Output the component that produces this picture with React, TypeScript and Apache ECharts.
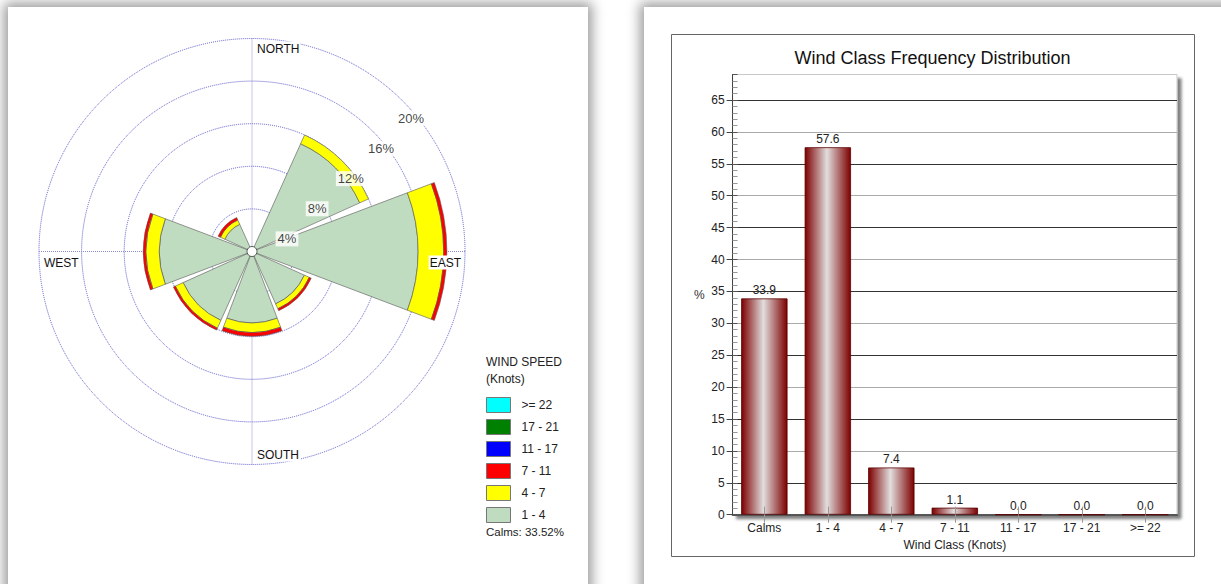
import React, { useEffect, useRef } from "react";
import * as echarts from "echarts";

// ---------- Wind rose data (percent of all observations) ----------
const directions = ["N", "NE", "E", "SE", "S", "SW", "W", "NW"];
const speed1to4 = [0, 11.1, 15.6, 5.4, 6.7, 7.1, 8.7, 2.8];
const speed4to7 = [0, 0.9, 2.4, 0.5, 0.9, 0.8, 1.25, 0.45];
const speed7to11 = [0, 0, 0.3, 0.2, 0.35, 0.2, 0.25, 0.25];
const speed11to17 = [0, 0, 0, 0, 0, 0, 0, 0];
const speed17to21 = [0, 0, 0, 0, 0, 0, 0, 0];
const speed22plus = [0, 0, 0, 0, 0, 0, 0, 0];
const ringTicks = [4, 8, 12, 16, 20];
const calmsPct = 33.52;
const legendOrder = [">= 22", "17 - 21", "11 - 17", "7 - 11", "4 - 7", "1 - 4"];

// ---------- Frequency distribution data ----------
const windClasses = ["Calms", "1 - 4", "4 - 7", "7 - 11", "11 - 17", "17 - 21", ">= 22"];
const classFreq = [33.9, 57.6, 7.4, 1.1, 0.0, 0.0, 0.0];

const FONT = "'Liberation Sans', Arial, sans-serif";

function WindRose() {
  const ref = useRef<HTMLDivElement>(null);
  useEffect(() => {
    const chart = echarts.init(ref.current!, null, { renderer: "svg" });
    const CX = 244;
    const CY = 244.5;
    const R = 213;
    const speedSeries = [
      { name: "1 - 4", data: speed1to4, color: "#c0dcc0" },
      { name: "4 - 7", data: speed4to7, color: "#ffff00" },
      { name: "7 - 11", data: speed7to11, color: "#ff0000" },
      { name: "11 - 17", data: speed11to17, color: "#0000ff" },
      { name: "17 - 21", data: speed17to21, color: "#008000" },
      { name: ">= 22", data: speed22plus, color: "#00ffff" },
    ];
    const compassText = (text: string, x: number, y: number, align: string) => ({
      type: "text",
      z: 20,
      x,
      y,
      style: {
        text,
        fill: "#111",
        font: `12px ${FONT}`,
        align,
        verticalAlign: "middle",
        backgroundColor: "#fff",
        padding: [1, 1],
      },
    });
    chart.setOption({
      animation: false,
      polar: [
        { center: [CX, CY], radius: R },
        { center: [CX, CY], radius: R },
      ],
      angleAxis: [
        {
          polarIndex: 0,
          type: "value",
          min: 0,
          max: 360,
          interval: 90,
          startAngle: 90,
          clockwise: true,
          axisLine: { show: false },
          axisTick: { show: false },
          axisLabel: { show: false },
          splitLine: { show: true, lineStyle: { type: "dotted", color: "#8c8cc8", width: 1 } },
        },
        {
          polarIndex: 1,
          type: "category",
          data: directions,
          startAngle: 112.5,
          clockwise: true,
          show: false,
        },
      ],
      radiusAxis: [
        {
          polarIndex: 0,
          type: "value",
          min: 0,
          max: 20,
          interval: 4,
          axisLine: { show: false },
          axisTick: { show: false },
          axisLabel: { show: false },
          splitLine: { show: true, lineStyle: { type: "dotted", color: "#5a5acc", width: 1 } },
        },
        { polarIndex: 1, type: "value", min: 0, max: 20, show: false },
      ],
      legend: {
        data: legendOrder,
        orient: "vertical",
        left: 478,
        top: 390,
        padding: 0,
        itemWidth: 24,
        itemHeight: 15,
        itemGap: 6,
        icon: "rect",
        selectedMode: false,
        itemStyle: { borderColor: "#777", borderWidth: 1 },
        textStyle: { fontSize: 12, color: "#222", fontFamily: FONT, padding: [0, 0, 0, 6] },
      },
      series: [
        ...speedSeries.map((s) => ({
          type: "bar",
          name: s.name,
          coordinateSystem: "polar",
          polarIndex: 1,
          stack: "wind",
          barCategoryGap: "8%",
          data: s.data.map((v) => (v === 0 ? null : v)),
          itemStyle: { color: s.color, borderColor: "#555", borderWidth: 0.6 },
          z: 3,
        })),
        {
          type: "scatter",
          coordinateSystem: "polar",
          polarIndex: 0,
          symbolSize: 0.1,
          itemStyle: { color: "transparent" },
          z: 15,
          data: ringTicks.map((v) => [v, 45]),
          label: {
            show: true,
            position: "inside",
            align: "left",
            offset: [-6.5, 17.5],
            formatter: (p: any) => `${p.value[0]}%`,
            fontSize: 13,
            fontFamily: FONT,
            color: "#111",
            textBorderWidth: 0,
            textBorderColor: "transparent",
            backgroundColor: "#fff",
            padding: [1, 2],
          },
        },
      ],
      graphic: [
        {
          type: "circle",
          z: 20,
          shape: { cx: CX, cy: CY, r: 5 },
          style: { fill: "#fff", stroke: "#333", lineWidth: 0.8 },
        },
        compassText("NORTH", CX + 4, CY - R + 10, "left"),
        compassText("SOUTH", CX + 4, CY + R - 10, "left"),
        compassText("EAST", CX + R - 3, CY + 11, "right"),
        compassText("WEST", CX - R + 4, CY + 11, "left"),
        {
          type: "text",
          x: 478,
          y: 355,
          style: { text: "WIND SPEED", fill: "#222", font: `12px ${FONT}`, verticalAlign: "middle" },
        },
        {
          type: "text",
          x: 478,
          y: 372,
          style: { text: "(Knots)", fill: "#222", font: `12px ${FONT}`, verticalAlign: "middle" },
        },
        {
          type: "text",
          x: 478,
          y: 525,
          style: {
            text: `Calms: ${calmsPct.toFixed(2)}%`,
            fill: "#222",
            font: `11.5px ${FONT}`,
            verticalAlign: "middle",
          },
        },
      ],
    });
    return () => chart.dispose();
  }, []);
  return <div ref={ref} style={{ width: 580, height: 577 }} />;
}

function FreqChart() {
  const ref = useRef<HTMLDivElement>(null);
  useEffect(() => {
    const chart = echarts.init(ref.current!, null, { renderer: "svg" });
    const barGradient = new echarts.graphic.LinearGradient(0, 0, 1, 0, [
      { offset: 0, color: "#7d0000" },
      { offset: 0.48, color: "#e2dede" },
      { offset: 1, color: "#7d0000" },
    ]);
    chart.setOption({
      animation: false,
      title: {
        text: "Wind Class Frequency Distribution",
        left: "center",
        top: 37,
        textStyle: { fontSize: 18, fontWeight: "normal", color: "#111", fontFamily: FONT },
      },
      grid: {
        left: 88.6,
        right: 44,
        top: 67.5,
        bottom: 69.3,
        show: true,
        backgroundColor: "#fff",
        borderColor: "#c8c8c8",
        borderWidth: 1,
        shadowColor: "rgba(0,0,0,0.5)",
        shadowBlur: 3,
        shadowOffsetX: 4,
        shadowOffsetY: 4,
      },
      xAxis: [
        {
          type: "category",
          data: windClasses,
          position: "bottom",
          axisLine: { show: true, lineStyle: { color: "#555", width: 2 } },
          axisTick: { show: true, alignWithLabel: true, length: 8, lineStyle: { color: "#999" } },
          axisLabel: { fontSize: 12, color: "#222", margin: 7, fontFamily: FONT },
          name: "Wind Class (Knots)",
          nameLocation: "middle",
          nameGap: 17,
          nameTextStyle: { fontSize: 12, color: "#222", fontFamily: FONT },
        },
        {
          type: "category",
          data: windClasses,
          position: "bottom",
          z: 10,
          axisLine: { show: false },
          axisTick: { show: true, inside: true, alignWithLabel: true, length: 8, lineStyle: { color: "#999" } },
          axisLabel: { show: false },
          splitLine: { show: false },
        },
      ],
      yAxis: [
        {
          type: "value",
          min: 0,
          max: 69,
          interval: 5,
          position: "left",
          axisLine: { show: true, lineStyle: { color: "#444" } },
          axisTick: { show: true, length: 6, lineStyle: { color: "#444" } },
          axisLabel: { showMaxLabel: false, fontSize: 12, color: "#222", margin: 8, fontFamily: FONT },
          splitLine: {
            show: true,
            showMinLine: false,
            showMaxLine: false,
            lineStyle: { color: ["#333", "#aaa"] },
          },
          name: "%",
          nameLocation: "middle",
          nameRotate: 0,
          nameGap: 28,
          nameTextStyle: { fontSize: 12, color: "#333", fontFamily: FONT },
        },
        {
          type: "value",
          min: 0,
          max: 69,
          interval: 5,
          position: "left",
          z: 10,
          axisLine: { show: false },
          axisTick: { show: true, inside: true, length: 5, lineStyle: { color: "#555" } },
          minorTick: { show: true, splitNumber: 5, length: 5, lineStyle: { color: "#999" } },
          axisLabel: { show: false },
          splitLine: { show: false },
        },
      ],
      series: [
        {
          type: "bar",
          xAxisIndex: 0,
          yAxisIndex: 0,
          data: classFreq,
          barCategoryGap: "27%",
          itemStyle: { color: barGradient, borderColor: "#5a0000", borderWidth: 0.8 },
          label: {
            show: true,
            position: "top",
            distance: 2,
            formatter: (p: any) => Number(p.value).toFixed(1),
            fontSize: 12,
            fontFamily: FONT,
            color: "#222",
            textBorderWidth: 0,
            textBorderColor: "transparent",
          },
        },
      ],
      graphic: [
        {
          type: "rect",
          z: -1,
          shape: { x: 27.5, y: 27.5, width: 523, height: 522 },
          style: { fill: "none", stroke: "#666", lineWidth: 1 },
        },
      ],
    });
    return () => chart.dispose();
  }, []);
  return <div ref={ref} style={{ width: 577, height: 577 }} />;
}

export default function App() {
  return (
    <div
      style={{
        position: "fixed",
        left: 0,
        top: 0,
        width: 1221,
        height: 584,
        background: "#fff",
        overflow: "hidden",
      }}
    >
      <div
        style={{
          position: "absolute",
          left: 8,
          top: 7,
          width: 580,
          height: 600,
          background: "#fff",
          boxShadow: "0 0 12px 4px rgba(0,0,0,0.4)",
        }}
      >
        <WindRose />
      </div>
      <div
        style={{
          position: "absolute",
          left: 644,
          top: 7,
          width: 600,
          height: 600,
          background: "#fff",
          boxShadow: "0 0 12px 4px rgba(0,0,0,0.4)",
        }}
      >
        <FreqChart />
      </div>
    </div>
  );
}
